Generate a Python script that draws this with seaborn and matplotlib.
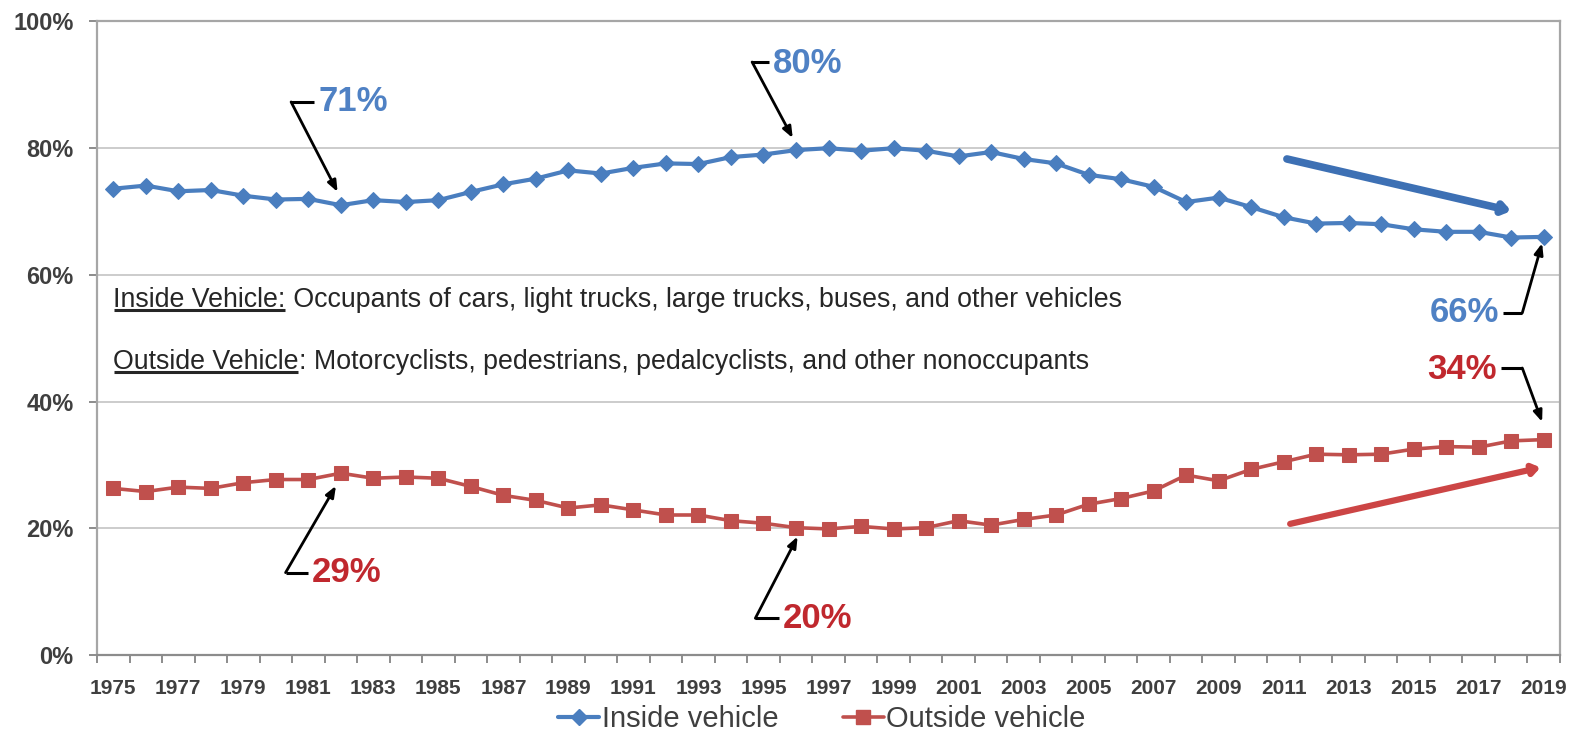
import matplotlib
matplotlib.use("Agg")
import matplotlib.pyplot as plt
import seaborn as sns
import pandas as pd
from matplotlib.lines import Line2D

years = list(range(1975, 2020))
inside = [73.6, 74.1, 73.2, 73.4, 72.5, 71.9, 72.0, 71.0, 71.8, 71.5, 71.8, 73.1,
          74.3, 75.2, 76.5, 76.0, 76.9, 77.6, 77.5, 78.6, 79.0, 79.7,
          80.0, 79.6, 80.0, 79.6, 78.7, 79.4, 78.3, 77.6, 75.8, 75.1, 73.9, 71.5,
          72.2, 70.7, 69.1, 68.1, 68.2, 68.0, 67.2, 66.8, 66.8, 65.9, 66.0]
outside = [26.3, 25.8, 26.5, 26.3, 27.2, 27.7, 27.7, 28.7, 27.9, 28.1, 27.9, 26.6,
           25.2, 24.4, 23.2, 23.7, 22.9, 22.1, 22.1, 21.2, 20.8, 20.1,
           19.9, 20.3, 19.9, 20.1, 21.2, 20.5, 21.4, 22.1, 23.8, 24.7, 25.9, 28.4,
           27.5, 29.3, 30.5, 31.7, 31.6, 31.7, 32.5, 32.9, 32.8, 33.8, 34.0]
series_names = ["Inside vehicle", "Outside vehicle"]
y_ticks = [0, 20, 40, 60, 80, 100]
y_tick_labels = ["0%", "20%", "40%", "60%", "80%", "100%"]
x_tick_years = list(range(1975, 2020, 2))
callout_labels = ["71%", "80%", "66%", "34%", "29%", "20%"]
note_heads = ["Inside Vehicle:", "Outside Vehicle"]
note_tails = [" Occupants of cars, light trucks, large trucks, buses, and other vehicles",
              ": Motorcyclists, pedestrians, pedalcyclists, and other nonoccupants"]

BLUE = "#4A7EBF"
RED = "#C0504D"
TXT_BLUE = "#4F81C4"
TXT_RED = "#C0282E"
GRAY_TXT = "#3F3F3F"

sns.set_theme(style="white")
plt.rcParams["font.family"] = ["Liberation Sans", "DejaVu Sans"]

W, H = 1571, 737
fig = plt.figure(figsize=(W / 100, H / 100), dpi=100)
fig.patch.set_facecolor("white")
ax = fig.add_axes([97 / W, 1 - 655 / H, (1560 - 97) / W, (655 - 21.5) / H])

df = pd.DataFrame({"year": years, "inside": inside, "outside": outside})
sns.lineplot(data=df, x="year", y="inside", ax=ax, color=BLUE, lw=3.0,
             marker="D", markersize=8, markeredgecolor=BLUE, zorder=4)
sns.lineplot(data=df, x="year", y="outside", ax=ax, color=RED, lw=2.6,
             marker="s", markersize=10.5, markeredgecolor=RED, zorder=4)

ax.set_xlim(1974.5, 2019.5)
ax.set_ylim(0, 100)
ax.set_xlabel("")
ax.set_ylabel("")

for v in y_ticks[1:-1]:
    ax.axhline(v, color="#C8C8C8", lw=1.3, zorder=1)
for s in ax.spines.values():
    s.set_color("#A6A6A6")
    s.set_linewidth(1.6)
ax.spines["bottom"].set_color("#8C8C8C")

ax.set_yticks(y_ticks)
ax.set_yticklabels(y_tick_labels)
ax.set_xticks(x_tick_years)
ax.set_xticklabels([str(y) for y in x_tick_years])
ax.set_xticks([y - 0.5 for y in years] + [years[-1] + 0.5], minor=True)
ax.tick_params(axis="y", which="major", length=6, width=1.4, color="#8C8C8C",
               pad=11, labelsize=17, labelcolor=GRAY_TXT, left=True)
ax.tick_params(axis="x", which="major", length=0, pad=17, labelsize=15,
               labelcolor=GRAY_TXT, bottom=True)
ax.tick_params(axis="x", which="minor", length=6, width=1.4, color="#8C8C8C",
               bottom=True, direction="out")
for lab in ax.get_xticklabels() + ax.get_yticklabels():
    lab.set_fontweight("bold")


def callout(label, color, txy, corner, tip, ha):
    ax.text(txy[0], txy[1], label, color=color, ha=ha, va="center",
            fontsize=25, fontweight="bold", zorder=6)
    hx = txy[0] - 0.12 if ha == "left" else txy[0] + 0.12
    ax.plot([hx, corner[0]], [corner[1], corner[1]], color="black", lw=2.2,
            solid_capstyle="butt", zorder=6)
    ax.annotate("", xy=tip, xytext=corner,
                arrowprops=dict(arrowstyle="-|>,head_length=0.55,head_width=0.22",
                                color="black", lw=2.0, shrinkA=0, shrinkB=0),
                zorder=6)


callout(callout_labels[0], TXT_BLUE, (1981.3, 87.3), (1980.47, 87.3), (1981.9, 73.1), "left")
callout(callout_labels[1], TXT_BLUE, (1995.3, 93.3), (1994.65, 93.6), (1995.9, 81.6), "left")
callout(callout_labels[2], TXT_BLUE, (2017.62, 54.0), (2018.34, 54.0), (2018.95, 65.0), "right")
callout(callout_labels[3], TXT_RED, (2017.56, 45.0), (2018.34, 45.3), (2018.95, 36.8), "right")
callout(callout_labels[4], TXT_RED, (1981.1, 13.0), (1980.3, 13.0), (1981.85, 26.7), "left")
callout(callout_labels[5], TXT_RED, (1995.6, 5.8), (1994.75, 5.8), (1996.05, 18.7), "left")

ax.annotate("", xy=(2018.0, 70.1), xytext=(2011.1, 78.3),
            arrowprops=dict(arrowstyle="-|>,head_length=0.35,head_width=0.25",
                            color="#3D70B4", lw=5.5, shrinkA=0, shrinkB=0), zorder=5)
ax.annotate("", xy=(2018.9, 29.6), xytext=(2011.2, 20.7),
            arrowprops=dict(arrowstyle="-|>,head_length=0.35,head_width=0.25",
                            color="#CC4545", lw=4.5, shrinkA=0, shrinkB=0), zorder=5)

note_y = [56.0, 46.25]
heads = []
for head, tail, yv in zip(note_heads, note_tails, note_y):
    t1 = ax.text(1975.0, yv, head, fontsize=19.3, color="#262626", va="center",
                 ha="left", zorder=6)
    ax.annotate(tail, xy=(1, 0.5), xycoords=t1, va="center", ha="left",
                fontsize=19.3, color="#262626", zorder=6)
    heads.append(t1)

fig.canvas.draw()
renderer = fig.canvas.get_renderer()
inv = ax.transAxes.inverted()
for t1 in heads:
    bb = t1.get_window_extent(renderer)
    (x0, y0) = inv.transform((bb.x0 + 1, bb.y0 + 3))
    (x1, _) = inv.transform((bb.x1 - 1, bb.y0 + 3))
    ax.plot([x0, x1], [y0, y0], transform=ax.transAxes, color="#262626", lw=2.2,
            solid_capstyle="butt", zorder=6)

handles = [Line2D([0], [0], color=BLUE, lw=3.0, marker="D", markersize=8),
           Line2D([0], [0], color=RED, lw=2.6, marker="s", markersize=10.5)]
leg = fig.legend(handles, series_names, loc="center",
                 bbox_to_anchor=(822 / W, 1 - 719 / H), ncol=2, frameon=False,
                 handlelength=1.4, handletextpad=0.1, columnspacing=2.2,
                 borderpad=0.1, prop={"size": 21})
for t in leg.get_texts():
    t.set_color(GRAY_TXT)

fig.savefig("out.png", dpi=100, facecolor="white")
